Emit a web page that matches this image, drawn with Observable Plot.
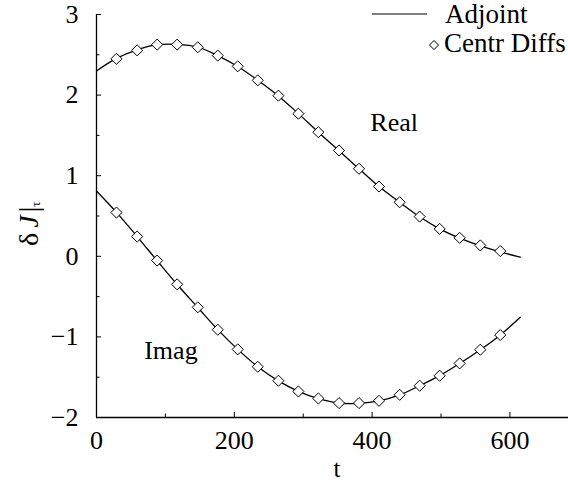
<!DOCTYPE html>
<html>
<head>
<meta charset="utf-8">
<script src="https://cdn.jsdelivr.net/npm/d3@7"></script>
<script src="https://cdn.jsdelivr.net/npm/@observablehq/plot@0.6"></script>
<style>
  html, body { margin: 0; padding: 0; background: #fff; }
  #chart { width: 568px; height: 485px; }
</style>
</head>
<body>
<div id="chart"></div>
<script>
// ---- Data ----
// Adjoint (solid line)
const tLine = [0, 29, 59, 88, 117, 147, 176, 205, 234, 264, 293, 322, 352, 381, 410, 440, 469, 498, 527, 557, 586, 615];
const realLine = [2.30, 2.455, 2.56, 2.625, 2.63, 2.595, 2.49, 2.355, 2.185, 1.99, 1.77, 1.54, 1.31, 1.085, 0.865, 0.67, 0.49, 0.34, 0.225, 0.13, 0.055, -0.01];
const imagLine = [0.81, 0.545, 0.245, -0.055, -0.35, -0.635, -0.91, -1.155, -1.37, -1.545, -1.675, -1.765, -1.82, -1.825, -1.795, -1.72, -1.605, -1.48, -1.33, -1.16, -0.975, -0.755];

// Centred differences (diamonds)
const tCD = [29, 59, 88, 117, 147, 176, 205, 234, 264, 293, 322, 352, 381, 410, 440, 469, 498, 527, 557, 586];
const realCD = [2.45, 2.555, 2.626, 2.626, 2.593, 2.49, 2.357, 2.183, 1.993, 1.769, 1.54, 1.313, 1.086, 0.866, 0.671, 0.493, 0.34, 0.229, 0.135, 0.065];
const imagCD = [0.543, 0.245, -0.053, -0.348, -0.633, -0.911, -1.155, -1.37, -1.544, -1.677, -1.764, -1.821, -1.821, -1.793, -1.718, -1.606, -1.482, -1.329, -1.159, -0.977];

// Axis ticks
const xTicks = [0, 200, 400, 600];
const xMinor = [100, 300, 500];
const yTicks = [-2, -1, 0, 1, 2, 3];
const yMinor = [-1.5, -0.5, 0.5, 1.5, 2.5];

// Curve annotations
const annText = ["Real", "Imag"];
const annT = [432, 108];
const annV = [1.66, -1.165];

// ---- Build tables ----
const lineRows = [
  ...tLine.map((t, i) => ({t, v: realLine[i], s: "Real"})),
  ...tLine.map((t, i) => ({t, v: imagLine[i], s: "Imag"}))
];
const cdRows = [
  ...tCD.map((t, i) => ({t, v: realCD[i]})),
  ...tCD.map((t, i) => ({t, v: imagCD[i]}))
];
const annRows = annText.map((text, i) => ({text, t: annT[i], v: annV[i]}));

const W = 568, H = 485;
const mL = 96, mR = 0, mT = 14, mB = 68;
const innerW = W - mL - mR, innerH = H - mT - mB;
const FONT = "Liberation Serif";

const chart = Plot.plot({
  width: W,
  height: H,
  marginLeft: mL,
  marginRight: mR,
  marginTop: mT,
  marginBottom: mB,
  style: {fontFamily: FONT, fontSize: "25px", background: "#fff", color: "#000", overflow: "visible"},
  x: {domain: [0, 685]},
  y: {domain: [-2, 3]},
  marks: [
    Plot.axisX({ticks: xTicks, tickSize: 0, tickPadding: 13, label: null, fontSize: 26, tickFormat: d => String(d)}),
    Plot.axisY({ticks: yTicks, tickSize: 0, tickPadding: 18, label: null, fontSize: 26,
      tickFormat: d => d < 0 ? "\u2212" + (-d) : String(d)}),
    Plot.ruleX([0], {stroke: "#000", strokeWidth: 1.3}),
    Plot.ruleY([-2], {stroke: "#000", strokeWidth: 1.3}),
    Plot.ruleX(xTicks, {stroke: "#000", insetTop: innerH - 5}),
    Plot.ruleX(xMinor, {stroke: "#000", insetTop: innerH - 3.5}),
    Plot.ruleY(yTicks, {stroke: "#000", insetRight: innerW - 5}),
    Plot.ruleY(yMinor, {stroke: "#000", insetRight: innerW - 3.5}),
    Plot.line(lineRows, {x: "t", y: "v", z: "s", stroke: "#000", strokeWidth: 1.3, curve: "catmull-rom"}),
    Plot.dot(cdRows, {x: "t", y: "v", symbol: "diamond2", r: 5, fill: "#fff", stroke: "#000", strokeWidth: 1}),
    Plot.text(annRows, {x: "t", y: "v", text: "text", fontSize: 26, lineAnchor: "middle", fill: "#000"})
  ]
});

document.getElementById("chart").appendChild(chart);

// ---- Legend, y label, x label (layout text) ----
const svg = d3.select(chart);
const g = svg.append("g").attr("font-family", FONT).attr("fill", "#000").attr("text-anchor", "start");

// legend
g.append("line").attr("x1", 372).attr("x2", 427).attr("y1", 14).attr("y2", 14)
  .attr("stroke", "#000").attr("stroke-width", 1.2);
g.append("text").attr("x", 445).attr("y", 23).attr("font-size", 27).text("Adjoint");
g.append("path").attr("d", "M434,40.5L438.5,45L434,49.5L429.5,45Z")
  .attr("fill", "#fff").attr("stroke", "#000").attr("stroke-width", 1);
g.append("text").attr("x", 444).attr("y", 52).attr("font-size", 27).text("Centr Diffs");

// x axis label
g.append("text").attr("x", 337).attr("y", 477).attr("font-size", 25).attr("text-anchor", "middle").text("t");

// y axis label: δ J|τ
const yl = g.append("text").attr("transform", "translate(38,246) rotate(-90)").attr("font-size", 28);
yl.append("tspan").text("δ");
yl.append("tspan").attr("dx", 5).attr("font-style", "italic").text("J");
yl.append("tspan").attr("dx", 3).text("|");
yl.append("tspan").attr("font-size", 13).attr("dy", 2).text("τ");
</script>
</body>
</html>
